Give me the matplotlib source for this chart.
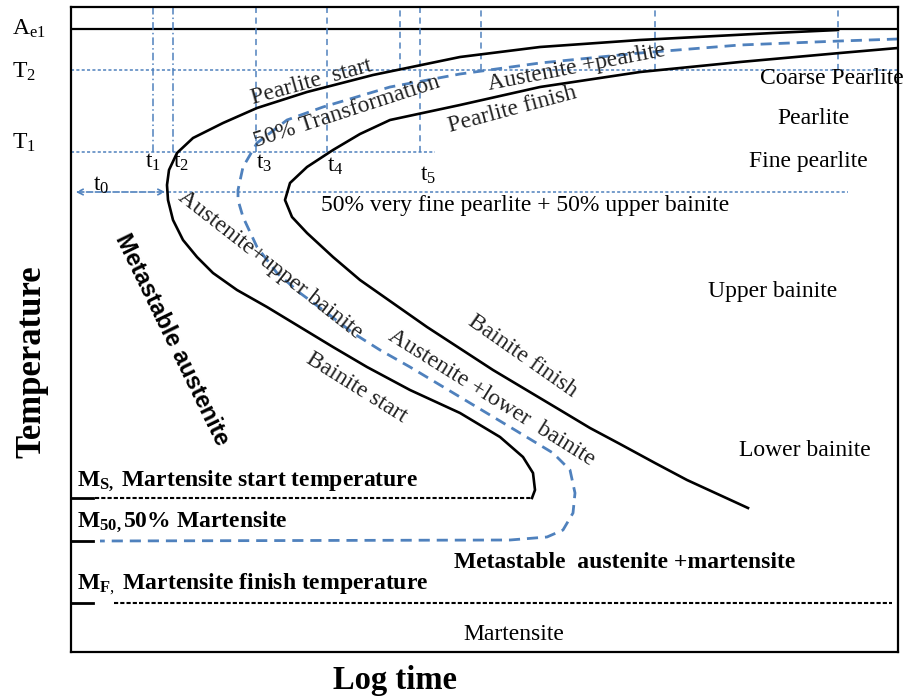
import numpy as np
import matplotlib.pyplot as plt

plt.rcParams['font.family'] = ['Liberation Serif', 'DejaVu Serif']
plt.rcParams['mathtext.fontset'] = 'custom'
plt.rcParams['mathtext.rm'] = 'Liberation Serif'
plt.rcParams['mathtext.it'] = 'Liberation Serif:italic'
plt.rcParams['mathtext.bf'] = 'Liberation Serif:bold'

blue = '#4F81BD'

# temperature levels (schematic units, frame runs 0..645)
T_AE1 = 623
T_2 = 582
T_1 = 500
T_T0 = 460
T_MS = 154
T_M50 = 111
T_MF = 49

# log time marks (schematic units, frame runs 0..827)
t_marks = [82, 102, 185, 256, 349]
t_extra = [329, 410, 584, 767]   # guide lines down to T2 only
t0_end = 97

# start curve (pearlite start -> bainite start)
start_x = np.array([767, 702, 569, 469, 389, 302, 236, 186, 152, 122, 106, 98, 96, 97,
                    102, 112, 126, 142, 166, 196, 229, 262, 296, 339, 389, 429, 452,
                    462, 464, 461])
start_y = np.array([622, 619, 612, 605, 595, 577, 560, 544, 529, 514, 499, 482, 467, 452,
                    432, 412, 395, 379, 362, 345, 325, 305, 285, 262, 239, 215, 195,
                    179, 162, 154])

# finish curve (pearlite finish -> bainite finish)
finish_x = np.array([827, 769, 669, 569, 469, 389, 319, 289, 262, 236, 219, 214, 221,
                     236, 262, 289, 356, 422, 489, 519, 549, 584, 616, 677])
finish_y = np.array([604, 599, 590, 580, 565, 547, 532, 518, 502, 485, 469, 452, 435,
                     419, 395, 372, 325, 282, 242, 224, 208, 189, 172, 144])

# 50 % transformation curve
half_x = np.array([827, 769, 669, 569, 469, 389, 319, 252, 216, 186, 172, 167, 167,
                   172, 186, 206, 229, 256, 282, 309, 339, 389, 439, 482, 499, 504,
                   502, 492, 476, 439, 29])
half_y = np.array([613, 611, 607, 599, 589, 578, 565, 545, 532, 509, 485, 462, 452,
                   435, 405, 379, 359, 339, 319, 302, 285, 255, 225, 199, 182, 159,
                   139, 122, 115, 112, 111])

fig = plt.figure(figsize=(9.06, 6.98), dpi=100)
ax = fig.add_axes([71/906, 46/698, 827/906, 645/698])
ax.set_xlim(0, 827)
ax.set_ylim(0, 645)
ax.set_xticks([])
ax.set_yticks([])
for s in ax.spines.values():
    s.set_linewidth(1.6)

# guide lines
ax.plot([0, 827], [T_AE1, T_AE1], 'k-', lw=1.6)
ax.plot([0, 827], [T_2, T_2], color=blue, lw=1.1, ls=(0, (2, 1.5)))
ax.plot([0, 364], [T_1, T_1], color=blue, lw=1.1, ls=(0, (2, 1.5)))
ax.plot([t0_end, 777], [T_T0, T_T0], color=blue, lw=1.1, ls=(0, (2, 1.5)))
for i, x in enumerate(t_marks):
    style = (0, (5, 2, 1, 2)) if i < 2 else (0, (4, 3))
    ax.plot([x, x], [T_1, 645], color=blue, lw=1.1, ls=style)
for x in t_extra:
    ax.plot([x, x], [T_2, 645], color=blue, lw=1.1, ls=(0, (4, 3)))
ax.annotate('', xy=(2, T_T0), xytext=(t0_end, T_T0),
            arrowprops=dict(arrowstyle='<->', color=blue, lw=1.2, ls='--'))

# transformation curves
ax.plot(start_x, start_y, 'k-', lw=1.9, solid_joinstyle='round')
ax.plot(finish_x, finish_y, 'k-', lw=1.9, solid_joinstyle='round')
ax.plot(half_x, half_y, color=blue, lw=2.0, ls=(0, (4, 2.5)), dash_joinstyle='round')

# martensite lines
for y in [T_MS, T_M50, T_MF]:
    ax.plot([0, 22], [y, y], 'k-', lw=2.0)
ax.plot([24, start_x[-1]], [T_MS, T_MS], 'k-', lw=1.5, ls=(0, (2, 1)))
ax.plot([43, 821], [T_MF, T_MF], 'k-', lw=1.5, ls=(0, (2, 1)))

fs = 17
# left level labels
ax.text(-59, T_AE1, r'A$_{\mathrm{e1}}$', fontsize=fs, ha='left', va='center', clip_on=False)
ax.text(-59, T_2 - 2, r'T$_{2}$', fontsize=fs, ha='left', va='center', clip_on=False)
ax.text(-59, 509, r'T$_{1}$', fontsize=fs, ha='left', va='center', clip_on=False)

# time labels
ax.text(82, 490, r'$\mathrm{t}_1$', fontsize=fs, ha='center', va='center')
ax.text(110, 490, r'$\mathrm{t}_2$', fontsize=fs, ha='center', va='center')
ax.text(193, 489, r'$\mathrm{t}_3$', fontsize=fs, ha='center', va='center')
ax.text(264, 486, r'$\mathrm{t}_4$', fontsize=fs, ha='center', va='center')
ax.text(357, 477, r'$\mathrm{t}_5$', fontsize=fs, ha='center', va='center')
ax.text(30, 467, r'$\mathrm{t}_0$', fontsize=fs, ha='center', va='center')

# curve labels
grey = '#222222'
ax.text(241, 570, 'Pearlite  start', fontsize=fs, rotation=15.5, ha='center', va='center', color=grey)
ax.text(276, 540, '50% Transformation', fontsize=fs, rotation=18, ha='center', va='center', color=grey)
ax.text(506, 585, 'Austenite +pearlite', fontsize=fs, rotation=11, ha='center', va='center', color=grey)
ax.text(441, 542, 'Pearlite finish', fontsize=fs, rotation=15, ha='center', va='center', color=grey)
ax.text(199, 387, 'Austenite+upper bainite', fontsize=fs, rotation=-38, ha='center', va='center', color=grey)
ax.text(420, 254, 'Austenite +lower  bainite', fontsize=fs, rotation=-32, ha='center', va='center', color=grey)
ax.text(452, 296, 'Bainite finish', fontsize=fs, rotation=-35, ha='center', va='center', color=grey)
ax.text(286, 264, 'Bainite start', fontsize=fs, rotation=-32, ha='center', va='center', color=grey)

# region labels
ax.text(761, 574, 'Coarse Pearlite', fontsize=fs, ha='center', va='center', clip_on=False)
ax.text(742, 534, 'Pearlite', fontsize=fs, ha='center', va='center')
ax.text(737, 490, 'Fine pearlite', fontsize=fs, ha='center', va='center')
ax.text(454, 447, '50% very fine pearlite + 50% upper bainite', fontsize=fs, ha='center', va='center')
ax.text(702, 360, 'Upper bainite', fontsize=fs, ha='center', va='center')
ax.text(734, 202, 'Lower bainite', fontsize=fs, ha='center', va='center')
ax.text(443, 18, 'Martensite', fontsize=fs, ha='center', va='center')
ax.text(101, 312, 'Metastable austenite', fontsize=fs, rotation=-64, ha='center', va='center',
        family='Liberation Sans', fontweight='bold')
ax.text(554, 90, 'Metastable  austenite +martensite', fontsize=fs, ha='center', va='center', fontweight='bold')

ax.text(6, 171, r'M$_{\mathbf{S,}}$ Martensite start temperature', fontsize=fs, ha='left', va='center', fontweight='bold')
ax.text(6, 130, r'M$_{\mathbf{50,}}$50% Martensite', fontsize=fs, ha='left', va='center', fontweight='bold')
ax.text(6, 68, r'M$_{\mathbf{F},}$ Martensite finish temperature', fontsize=fs, ha='left', va='center', fontweight='bold')

# axis titles
ax.text(-39, 290, 'Temperature', fontsize=25, rotation=90, ha='center', va='center',
        fontweight='bold', clip_on=False)
ax.text(324, -28, 'Log time', fontsize=23.5, ha='center', va='center', fontweight='bold', clip_on=False)

fig.savefig('out.png', dpi=100)
